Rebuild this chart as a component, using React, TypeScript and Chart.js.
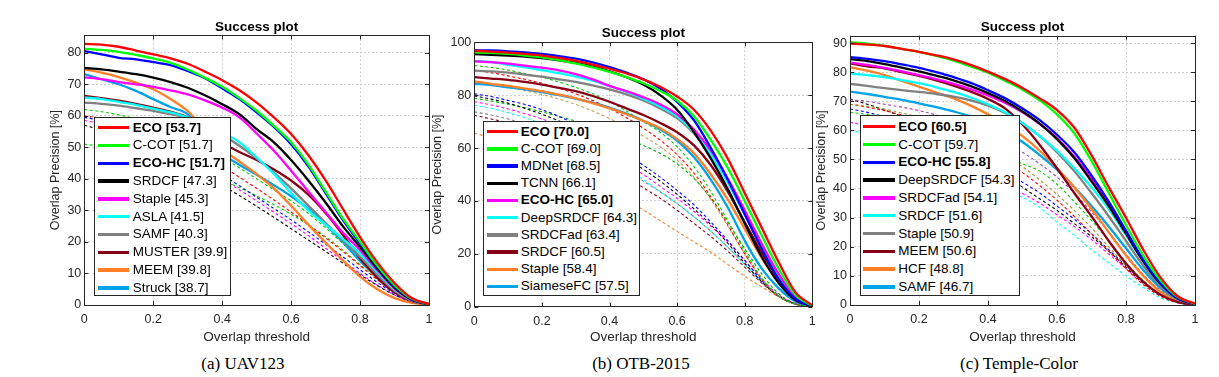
import React, { useEffect, useRef } from 'react';
import { Chart, registerables } from 'chart.js';

Chart.register(...registerables);

// ---------------- DATA ----------------
const THRESHOLDS = [0, 0.05, 0.1, 0.15, 0.2, 0.25, 0.3, 0.35, 0.4, 0.45, 0.5, 0.55, 0.6, 0.65, 0.7, 0.75, 0.8, 0.85, 0.9, 0.95, 1];
const X_TICKS = [0, 0.2, 0.4, 0.6, 0.8, 1];

// (a) UAV123
const UAV_TRACKERS = ['ECO', 'C-COT', 'ECO-HC', 'SRDCF', 'Staple', 'ASLA', 'SAMF', 'MUSTER', 'MEEM', 'Struck'];
const UAV_SCORES = [53.7, 51.7, 51.7, 47.3, 45.3, 41.5, 40.3, 39.9, 39.8, 38.7];
const UAV_CURVES = [
  [82.8, 82.6, 81.9, 80.7, 79.5, 78.2, 76.5, 74.0, 71.3, 68.1, 64.2, 59.5, 54.2, 47.5, 39.5, 30.5, 21.5, 13.5, 7.0, 2.2, 0.3],
  [81.3, 80.9, 80.3, 79.3, 78.2, 76.8, 74.7, 72.1, 69.2, 65.6, 61.6, 56.8, 51.6, 44.5, 36.0, 27.5, 20.0, 12.5, 6.3, 2.0, 0.3],
  [80.5, 79.5, 78.4, 77.9, 77.0, 76.1, 74.2, 71.9, 68.7, 65.3, 61.1, 56.5, 51.0, 44.0, 35.5, 27.0, 19.5, 12.2, 6.0, 1.9, 0.3],
  [75.2, 74.7, 74.0, 73.2, 72.1, 70.7, 68.9, 66.5, 63.7, 60.5, 55.8, 51.6, 46.0, 39.5, 32.5, 25.0, 18.4, 11.5, 5.5, 1.7, 0.2],
  [72.2, 71.6, 70.7, 70.0, 69.2, 68.1, 66.8, 64.9, 62.6, 59.5, 54.4, 48.9, 42.6, 36.0, 29.5, 23.0, 17.4, 11.0, 5.3, 1.6, 0.2],
  [65.8, 65.3, 64.4, 63.5, 62.3, 61.1, 59.5, 57.2, 54.7, 51.6, 46.8, 41.6, 35.5, 30.0, 25.5, 21.0, 16.3, 10.5, 5.0, 1.5, 0.2],
  [64.2, 63.8, 63.2, 62.4, 61.6, 60.5, 59.3, 57.0, 54.0, 50.5, 46.5, 42.0, 37.0, 31.5, 26.0, 20.5, 15.3, 9.8, 4.6, 1.4, 0.2],
  [66.3, 65.6, 64.8, 63.8, 62.6, 61.3, 59.5, 55.5, 51.5, 48.5, 46.0, 43.0, 39.5, 35.0, 29.2, 22.3, 14.8, 8.6, 4.0, 1.2, 0.2],
  [74.7, 73.7, 72.3, 70.5, 68.4, 65.3, 61.5, 55.5, 49.5, 45.5, 41.5, 37.0, 31.5, 25.5, 19.8, 14.2, 9.0, 5.0, 2.2, 0.7, 0.1],
  [73.2, 71.6, 70.0, 67.9, 65.3, 62.8, 60.5, 54.0, 48.0, 44.5, 41.3, 38.0, 34.5, 30.5, 25.5, 20.0, 14.0, 9.0, 4.5, 1.4, 0.2],
];
const UAV_OTHER_CURVES = [
  [60.0, 59.2, 58.2, 56.8, 55.0, 52.8, 50.2, 47.2, 44.0, 40.5, 37.0, 33.3, 29.5, 25.5, 21.3, 17.0, 12.5, 8.0, 4.0, 1.2, 0],
  [62.0, 61.3, 60.3, 59.0, 57.3, 55.3, 53.0, 50.0, 46.8, 43.5, 40.0, 36.5, 33.0, 29.0, 24.5, 19.5, 14.5, 9.3, 4.7, 1.5, 0],
  [59.5, 58.5, 57.2, 55.5, 53.5, 51.0, 48.0, 44.8, 41.3, 37.8, 34.2, 30.6, 27.0, 23.2, 19.3, 15.3, 11.2, 7.2, 3.6, 1.0, 0],
  [57.0, 55.5, 53.8, 51.8, 49.5, 47.0, 44.2, 41.2, 38.0, 34.7, 31.3, 27.8, 24.2, 20.6, 17.0, 13.3, 9.6, 6.2, 3.2, 1.0, 0],
  [58.5, 57.5, 56.0, 54.2, 52.0, 49.5, 46.5, 43.3, 40.0, 36.5, 33.0, 29.4, 25.8, 22.0, 18.0, 14.0, 10.0, 6.3, 3.2, 0.9, 0],
  [51.0, 50.3, 49.4, 48.3, 47.0, 45.5, 43.8, 41.8, 39.6, 37.2, 34.6, 31.8, 28.8, 25.4, 21.6, 17.4, 12.8, 8.2, 4.2, 1.2, 0],
];
const UAV_Y_TICKS = [0, 10, 20, 30, 40, 50, 60, 70, 80];
const UAV_Y_MAX = 85.5;

// (b) OTB-2015
const OTB_TRACKERS = ['ECO', 'C-COT', 'MDNet', 'TCNN', 'ECO-HC', 'DeepSRDCF', 'SRDCFad', 'SRDCF', 'Staple', 'SiameseFC'];
const OTB_SCORES = [70.0, 69.0, 68.5, 66.1, 65.0, 64.3, 63.4, 60.5, 58.4, 57.5];
const OTB_CURVES = [
  [96.8, 96.5, 96.1, 95.6, 95.0, 94.1, 93.0, 91.6, 90.0, 88.2, 86.0, 83.2, 79.5, 74.5, 66.5, 56.0, 43.0, 30.0, 17.0, 5.5, 0.5],
  [96.2, 96.0, 95.6, 95.0, 94.3, 93.3, 92.0, 90.5, 88.8, 86.8, 84.5, 81.6, 78.0, 72.0, 63.0, 52.5, 40.0, 27.0, 14.5, 4.5, 0.4],
  [97.0, 96.9, 96.6, 96.2, 95.6, 94.8, 93.8, 92.4, 90.6, 88.5, 86.0, 82.5, 77.5, 70.5, 60.0, 48.0, 35.0, 22.0, 10.5, 3.0, 0.3],
  [95.5, 95.3, 95.0, 94.6, 94.0, 93.2, 92.2, 90.8, 89.0, 86.8, 84.0, 80.0, 74.5, 66.0, 56.0, 44.5, 31.5, 19.0, 9.0, 2.5, 0.3],
  [92.8, 92.5, 91.9, 91.2, 90.4, 89.4, 88.0, 86.0, 83.5, 81.5, 79.2, 76.5, 72.8, 67.0, 59.0, 48.5, 36.5, 24.0, 12.5, 3.8, 0.3],
  [93.0, 92.5, 91.5, 90.5, 89.5, 88.3, 87.0, 85.5, 83.5, 81.3, 78.7, 75.7, 72.0, 66.0, 57.5, 47.0, 35.0, 22.5, 11.5, 3.3, 0.3],
  [89.3, 89.0, 88.5, 87.8, 87.0, 86.0, 85.0, 83.7, 82.2, 80.3, 78.0, 75.0, 71.3, 65.5, 57.5, 47.0, 35.0, 22.5, 11.5, 3.3, 0.3],
  [86.8, 86.3, 85.8, 85.0, 84.0, 82.8, 81.5, 79.7, 77.5, 75.0, 72.5, 69.5, 66.0, 61.0, 53.5, 43.5, 32.0, 20.5, 10.5, 3.0, 0.3],
  [85.2, 84.3, 83.5, 82.5, 81.5, 80.2, 78.8, 77.0, 75.0, 72.8, 70.3, 67.5, 63.5, 58.0, 50.0, 40.5, 29.5, 18.5, 9.5, 2.8, 0.3],
  [84.3, 83.8, 83.0, 82.2, 81.2, 80.0, 78.7, 77.2, 75.3, 73.0, 70.3, 67.0, 62.8, 56.5, 48.0, 37.5, 25.0, 14.5, 7.0, 2.0, 0.2],
];
const OTB_OTHER_CURVES = [
  [91.2, 90.5, 89.5, 88.2, 86.8, 85.0, 83.0, 80.5, 77.5, 74.0, 70.0, 66.0, 60.5, 53.0, 43.5, 32.5, 21.0, 11.0, 4.0, 1.0, 0],
  [89.5, 88.5, 87.3, 86.0, 84.5, 82.7, 80.5, 78.0, 75.0, 71.5, 67.5, 63.0, 57.5, 50.5, 41.5, 31.0, 20.0, 10.5, 4.0, 1.0, 0],
  [85.0, 84.0, 83.0, 81.7, 80.3, 78.5, 76.5, 74.0, 71.2, 68.0, 64.5, 60.5, 55.5, 49.0, 40.5, 30.5, 20.0, 10.5, 4.0, 1.0, 0],
  [80.5, 79.5, 78.0, 76.5, 74.5, 72.0, 69.0, 65.5, 61.5, 57.5, 53.5, 49.0, 44.0, 38.5, 32.0, 25.0, 17.5, 10.0, 4.0, 1.0, 0],
  [79.7, 78.5, 77.0, 75.0, 72.8, 70.3, 67.5, 64.0, 60.0, 56.0, 52.0, 47.5, 42.5, 37.0, 31.0, 24.0, 16.5, 9.5, 4.0, 1.0, 0],
  [78.8, 77.8, 76.6, 75.2, 73.7, 72.0, 70.2, 68.2, 66.0, 63.5, 61.0, 58.0, 54.0, 48.5, 41.0, 32.0, 22.0, 12.5, 5.0, 1.2, 0],
  [77.5, 76.3, 74.8, 73.0, 71.0, 68.5, 65.5, 62.0, 58.0, 54.0, 50.0, 45.5, 41.0, 36.0, 30.5, 24.5, 17.5, 10.5, 4.5, 1.2, 0],
  [76.2, 75.0, 73.4, 71.5, 69.2, 66.5, 63.5, 60.0, 56.0, 52.0, 48.0, 43.5, 39.0, 34.0, 28.5, 22.5, 16.0, 9.5, 4.0, 1.0, 0],
  [73.7, 72.5, 71.0, 69.0, 66.8, 64.3, 61.5, 58.3, 55.0, 51.5, 47.5, 43.5, 39.0, 34.0, 28.5, 22.5, 16.0, 9.5, 4.0, 1.0, 0],
  [72.4, 71.0, 69.5, 67.5, 65.2, 62.5, 59.5, 56.0, 52.5, 49.0, 45.0, 41.0, 36.5, 31.5, 26.5, 21.0, 15.0, 9.0, 4.0, 1.0, 0],
  [65.6, 63.8, 61.5, 59.0, 56.0, 52.5, 49.5, 46.7, 43.8, 40.3, 36.6, 32.5, 28.5, 24.5, 20.5, 16.0, 11.5, 7.5, 3.8, 1.2, 0],
];
const OTB_Y_TICKS = [0, 20, 40, 60, 80, 100];
const OTB_Y_MAX = 100;

// (c) Temple-Color
const TC_TRACKERS = ['ECO', 'C-COT', 'ECO-HC', 'DeepSRDCF', 'SRDCFad', 'SRDCF', 'Staple', 'MEEM', 'HCF', 'SAMF'];
const TC_SCORES = [60.5, 59.7, 55.8, 54.3, 54.1, 51.6, 50.9, 50.6, 48.8, 46.7];
const TC_CURVES = [
  [89.8, 89.5, 89.0, 88.0, 87.0, 85.8, 84.4, 82.5, 80.2, 77.6, 74.6, 71.0, 67.0, 61.0, 51.5, 40.5, 30.0, 19.0, 9.5, 3.0, 0.5],
  [90.3, 89.8, 89.0, 88.0, 87.0, 85.6, 84.0, 82.0, 79.8, 77.0, 74.0, 70.3, 65.5, 59.0, 49.5, 38.5, 27.5, 17.0, 8.5, 2.7, 0.4],
  [85.2, 84.6, 83.8, 82.7, 81.5, 80.0, 78.3, 76.3, 73.8, 71.0, 67.5, 63.5, 58.5, 52.5, 44.5, 35.5, 25.5, 15.5, 7.5, 2.3, 0.4],
  [84.5, 83.8, 82.8, 81.6, 80.3, 78.8, 77.2, 75.2, 72.8, 70.0, 66.5, 62.3, 57.0, 50.5, 42.5, 34.0, 24.5, 15.0, 7.3, 2.2, 0.3],
  [83.3, 82.5, 81.5, 80.3, 79.0, 77.6, 76.0, 74.2, 72.0, 69.4, 66.2, 62.2, 57.3, 51.0, 43.5, 35.0, 25.5, 15.5, 7.5, 2.3, 0.3],
  [79.5, 79.0, 78.3, 77.3, 76.2, 74.8, 73.2, 71.3, 69.0, 66.2, 62.5, 58.0, 53.0, 47.0, 40.5, 33.0, 24.0, 15.0, 7.3, 2.2, 0.3],
  [76.0, 75.3, 74.5, 73.8, 73.2, 72.5, 71.6, 70.3, 68.5, 66.0, 62.5, 58.0, 52.5, 46.0, 38.5, 30.5, 22.0, 13.5, 6.5, 2.0, 0.3],
  [83.0, 82.0, 81.3, 80.0, 78.7, 77.2, 75.4, 73.3, 70.8, 67.5, 62.0, 55.0, 47.0, 38.5, 30.5, 22.0, 14.3, 8.0, 3.5, 1.0, 0.2],
  [81.7, 80.5, 79.0, 77.0, 75.0, 73.0, 71.0, 68.5, 65.5, 62.0, 58.0, 53.0, 47.0, 40.5, 33.0, 25.0, 17.0, 10.0, 4.5, 1.3, 0.2],
  [73.3, 72.5, 71.5, 70.5, 69.3, 68.0, 66.5, 64.8, 62.5, 59.5, 56.0, 51.5, 46.5, 40.5, 34.0, 27.0, 19.5, 12.0, 5.8, 1.8, 0.2],
];
const TC_OTHER_CURVES = [
  [70.5, 70.0, 69.0, 68.0, 66.8, 65.3, 63.5, 61.5, 59.0, 56.0, 52.5, 48.5, 44.0, 38.5, 32.0, 25.0, 17.5, 10.5, 5.0, 1.5, 0],
  [69.0, 68.3, 67.3, 66.0, 64.5, 62.7, 60.5, 58.0, 55.0, 51.5, 47.5, 43.0, 38.0, 32.5, 26.5, 20.0, 13.5, 8.0, 3.5, 1.0, 0],
  [69.0, 68.0, 66.8, 65.3, 63.5, 61.5, 59.0, 56.0, 53.0, 49.5, 45.5, 41.0, 36.0, 30.5, 24.5, 18.5, 12.5, 7.0, 3.0, 0.8, 0],
  [66.2, 65.5, 64.5, 63.2, 61.8, 60.0, 58.0, 55.5, 53.0, 51.0, 48.5, 46.0, 41.5, 35.5, 29.0, 22.0, 14.5, 8.5, 3.5, 1.0, 0],
  [67.4, 66.2, 64.7, 63.0, 61.0, 58.7, 56.0, 53.0, 49.5, 46.0, 42.2, 38.5, 34.0, 29.5, 24.5, 19.0, 13.5, 8.0, 3.5, 1.0, 0],
  [70.8, 69.0, 67.0, 64.8, 62.3, 59.5, 56.3, 53.0, 49.5, 45.0, 40.5, 36.5, 32.5, 28.0, 23.5, 18.5, 13.0, 7.5, 3.5, 1.0, 0],
  [62.8, 61.5, 60.0, 58.0, 55.8, 53.3, 50.5, 47.5, 44.5, 41.5, 38.3, 35.0, 31.0, 27.0, 22.5, 17.5, 12.5, 7.5, 3.5, 1.0, 0],
  [60.0, 58.7, 57.0, 55.0, 52.8, 50.3, 47.5, 44.5, 41.5, 39.0, 37.0, 33.5, 28.5, 24.0, 19.0, 14.5, 10.0, 6.0, 2.5, 0.7, 0],
];
const TC_Y_TICKS = [0, 10, 20, 30, 40, 50, 60, 70, 80, 90];
const TC_Y_MAX = 92.5;

const BOLD_TRACKERS = ['ECO', 'ECO-HC'];

// ---------------- STYLES ----------------
const SOLID_COLORS = ['#ff0000', '#00ff00', '#0000ff', '#000000', '#ff00ff', '#00ffff', '#808080', '#880015', '#ff7f27', '#00a2e8'];
const UAV_DASH_COLORS = ['#ff0000', '#00cc00', '#0000ff', '#000000', '#ff00ff', '#00cc00'];
const OTB_DASH_COLORS = ['#00cc00', '#ff0000', '#c8a050', '#0000ff', '#000000', '#00aa00', '#ff00ff', '#00ffff', '#808080', '#880015', '#ff7f27'];
const TC_DASH_COLORS = ['#a349a4', '#b09030', '#ff0000', '#00cc00', '#0000ff', '#000000', '#ff00ff', '#00ffff'];

const SANS = "'Liberation Sans', Arial, sans-serif";
const SERIF = "'Liberation Serif', 'Times New Roman', serif";
const INK = '#262626';
const TITLE_SIZE = 13.5;
const AXIS_TITLE_SIZE = 12.5;
const X_TITLE_SIZE = 13.5;
const TICK_SIZE = 12.5;

type Geo = {
  cl: number; cw: number; ch: number;
  L: number; R: number; T: number; B: number;
  titleY: number; yTitleX: number; xTitleY: number;
  legend: { left: number; top: number; width: number; height: number; row0: number; step: number; lx0: number; lx1: number; tx: number };
};

const framePlugin = {
  id: 'matlabFrame',
  afterDraw(chart: any) {
    const { ctx, chartArea: a, scales } = chart;
    ctx.save();
    ctx.strokeStyle = INK;
    ctx.lineWidth = 1;
    ctx.setLineDash([]);
    ctx.strokeRect(Math.round(a.left) + 0.5, Math.round(a.top) + 0.5, Math.round(a.right - a.left), Math.round(a.bottom - a.top));
    const tl = 4;
    ctx.beginPath();
    scales.x.ticks.forEach((t: any) => {
      const x = Math.round(scales.x.getPixelForValue(t.value)) + 0.5;
      ctx.moveTo(x, a.bottom); ctx.lineTo(x, a.bottom - tl);
      ctx.moveTo(x, a.top); ctx.lineTo(x, a.top + tl);
    });
    scales.y.ticks.forEach((t: any) => {
      const y = Math.round(scales.y.getPixelForValue(t.value)) + 0.5;
      ctx.moveTo(a.left, y); ctx.lineTo(a.left + tl, y);
      ctx.moveTo(a.right, y); ctx.lineTo(a.right - tl, y);
    });
    ctx.stroke();
    ctx.restore();
  },
};

function Legend({ names, scores, geo }: { names: string[]; scores: number[]; geo: Geo }) {
  const g = geo.legend;
  return (
    <div style={{ position: 'absolute', left: g.left, top: g.top, width: g.width, height: g.height, border: `1px solid ${INK}`, background: '#fff', boxSizing: 'border-box' }}>
      {names.map((n, i) => {
        const cy = g.row0 + i * g.step - g.top - 1;
        return (
          <React.Fragment key={n}>
            <div style={{ position: 'absolute', left: g.lx0 - g.left - 1, width: g.lx1 - g.lx0, top: cy - 1.75, height: 3.5, background: SOLID_COLORS[i] }} />
            <div style={{ position: 'absolute', left: g.tx - g.left - 1, top: cy - 9, height: 18, lineHeight: '18px', fontSize: 13.5, fontFamily: SANS, fontWeight: BOLD_TRACKERS.includes(n) ? 'bold' : 'normal', whiteSpace: 'nowrap', color: '#000' }}>
              {`${n} [${scores[i].toFixed(1)}]`}
            </div>
          </React.Fragment>
        );
      })}
    </div>
  );
}

function Panel({ names, scores, curves, others, dashColors, yTicks, yMax, geo }: any) {
  const ref = useRef<HTMLCanvasElement>(null);
  useEffect(() => {
    const g: Geo = geo;
    const toPts = (c: number[]) => THRESHOLDS.map((t, i) => ({ x: t, y: c[i] }));
    const datasets: any[] = [];
    curves.forEach((c: number[], i: number) => {
      datasets.push({ label: names[i], data: toPts(c), borderColor: SOLID_COLORS[i], borderWidth: 2.3, pointRadius: 0, fill: false });
    });
    others.forEach((c: number[], i: number) => {
      datasets.push({ label: 'other' + i, data: toPts(c), borderColor: dashColors[i], borderWidth: 1.1, borderDash: [3, 2.5], pointRadius: 0, fill: false });
    });
    const titleLH = TITLE_SIZE * 1.2;
    const yTitleLH = AXIS_TITLE_SIZE * 1.2;
    const xTitleLH = X_TITLE_SIZE * 1.2;
    const axisLeft = g.yTitleX - yTitleLH / 2;
    const axisBottom = g.xTitleY + xTitleLH / 2;
    const chart = new Chart(ref.current!, {
      type: 'line',
      data: { datasets },
      options: {
        animation: false,
        responsive: false,
        devicePixelRatio: 1,
        layout: { padding: { left: axisLeft - g.cl, right: g.cl + g.cw - g.R, top: 0, bottom: g.ch - axisBottom } },
        elements: { line: { cubicInterpolationMode: 'monotone' }, point: { radius: 0 } },
        plugins: {
          legend: { display: false },
          tooltip: { enabled: false },
          title: {
            display: true, text: 'Success plot', fullSize: false, color: '#000',
            font: { family: SANS, size: TITLE_SIZE, weight: 'bold', lineHeight: 1.2 },
            padding: { top: g.titleY - titleLH / 2, bottom: Math.max(0, g.T - g.titleY - titleLH / 2) },
          },
        },
        scales: {
          x: {
            type: 'linear', min: 0, max: 1,
            afterBuildTicks: (s: any) => { s.ticks = X_TICKS.map((v) => ({ value: v })); },
            afterFit: (s: any) => { s.height = axisBottom - g.B; },
            grid: { color: '#cfcfcf', drawTicks: false, lineWidth: 1 },
            border: { display: false, dash: [2, 2] },
            ticks: { padding: 7, color: INK, font: { family: SANS, size: TICK_SIZE }, maxRotation: 0, autoSkip: false, callback: (v: any) => String(v) },
            title: { display: true, text: 'Overlap threshold', color: INK, font: { family: SANS, size: X_TITLE_SIZE, lineHeight: 1.2 }, padding: 0 },
          },
          y: {
            type: 'linear', min: 0, max: yMax,
            afterBuildTicks: (s: any) => { s.ticks = yTicks.map((v: number) => ({ value: v })); },
            afterFit: (s: any) => { s.width = g.L - axisLeft; },
            grid: { color: '#cfcfcf', drawTicks: false, lineWidth: 1 },
            border: { display: false, dash: [2, 2] },
            ticks: { padding: 3, color: INK, font: { family: SANS, size: TICK_SIZE }, autoSkip: false, callback: (v: any) => String(v) },
            title: { display: true, text: 'Overlap Precision [%]', color: INK, font: { family: SANS, size: AXIS_TITLE_SIZE, lineHeight: 1.2 }, padding: 0 },
          },
        },
      } as any,
      plugins: [framePlugin],
    });
    return () => chart.destroy();
  }, []);
  return (
    <>
      <canvas ref={ref} width={geo.cw} height={geo.ch} style={{ position: 'absolute', left: geo.cl, top: 0, width: geo.cw, height: geo.ch }} />
      <Legend names={names} scores={scores} geo={geo} />
    </>
  );
}

const GEO_UAV: Geo = {
  cl: 0, cw: 440, ch: 352, L: 84.3, R: 429, T: 34.3, B: 305, titleY: 27.3, yTitleX: 56, xTitleY: 337,
  legend: { left: 94.3, top: 116.7, width: 137, height: 179, row0: 127.7, step: 17.8, lx0: 98.3, lx1: 129.3, tx: 132.7 },
};
const GEO_OTB: Geo = {
  cl: 425, cw: 400, ch: 352, L: 474.3, R: 812.3, T: 42.3, B: 306.7, titleY: 33.3, yTitleX: 438, xTitleY: 337,
  legend: { left: 483.3, top: 120.7, width: 157, height: 175.5, row0: 131.7, step: 17.2, lx0: 487.3, lx1: 518.3, tx: 520.7 },
};
const GEO_TC: Geo = {
  cl: 808, cw: 400, ch: 352, L: 850, R: 1195, T: 35, B: 305, titleY: 27.7, yTitleX: 821.5, xTitleY: 337,
  legend: { left: 860, top: 115, width: 160, height: 180.5, row0: 126.7, step: 17.8, lx0: 863.3, lx1: 895, tx: 898.3 },
};

const CAPTIONS = ['(a) UAV123', '(b) OTB-2015', '(c) Temple-Color'];
const CAPTION_X = [243, 641, 1019];

export default function App() {
  return (
    <div style={{ position: 'absolute', left: 0, top: 0, width: 1219, height: 377, background: '#fff', overflow: 'hidden' }}>
      <Panel names={UAV_TRACKERS} scores={UAV_SCORES} curves={UAV_CURVES} others={UAV_OTHER_CURVES} dashColors={UAV_DASH_COLORS} yTicks={UAV_Y_TICKS} yMax={UAV_Y_MAX} geo={GEO_UAV} />
      <Panel names={OTB_TRACKERS} scores={OTB_SCORES} curves={OTB_CURVES} others={OTB_OTHER_CURVES} dashColors={OTB_DASH_COLORS} yTicks={OTB_Y_TICKS} yMax={OTB_Y_MAX} geo={GEO_OTB} />
      <Panel names={TC_TRACKERS} scores={TC_SCORES} curves={TC_CURVES} others={TC_OTHER_CURVES} dashColors={TC_DASH_COLORS} yTicks={TC_Y_TICKS} yMax={TC_Y_MAX} geo={GEO_TC} />
      {CAPTIONS.map((c, i) => (
        <div key={c} style={{ position: 'absolute', left: CAPTION_X[i] - 150, width: 300, top: 353, lineHeight: '22px', textAlign: 'center', fontFamily: SERIF, fontSize: 17, color: '#000' }}>{c}</div>
      ))}
    </div>
  );
}
